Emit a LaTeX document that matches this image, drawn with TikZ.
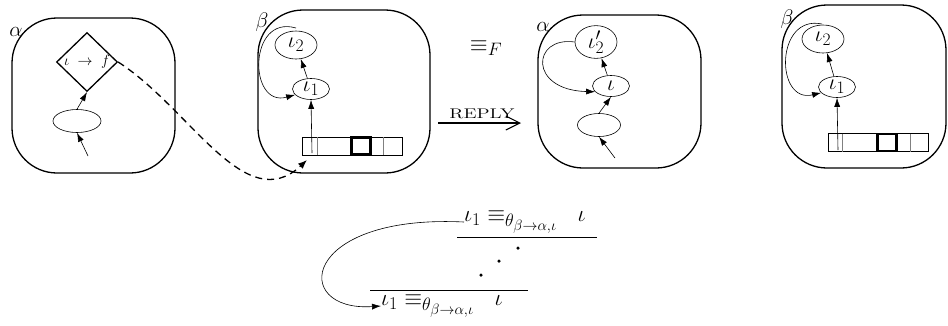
\RequirePackage{fix-cm}
\documentclass[tikz,border=0pt]{standalone}
\usetikzlibrary{shapes.geometric,arrows.meta}
\DeclareMathSizes{21}{21}{17}{13}
\DeclareMathSizes{22}{22}{17.5}{14}
\DeclareMathSizes{23}{23}{18}{15}
\DeclareMathSizes{15}{15}{11}{9}
\begin{document}
\begin{tikzpicture}[x=1pt,y=-1pt,
  agent/.style={line width=1.3pt,rounded corners=45pt},
  elt/.style={ellipse,draw,line width=0.6pt,inner sep=0pt},
  bigell/.style={elt,minimum width=42pt,minimum height=28pt},
  smallell/.style={elt,minimum width=37pt,minimum height=21pt},
  emptyell/.style={elt,minimum width=48pt,minimum height=23pt},
  arr/.style={-{Latex[length=9pt,width=6pt]},line width=0.6pt},
  lbl/.style={inner sep=0pt,font=\fontsize{21}{23}\selectfont},
  inner/.style={font=\fontsize{22}{24}\selectfont},
  cellline/.style={draw=gray,line width=0.8pt},
  arraybox/.style={draw,line width=1pt,inner sep=0pt,minimum width=100pt,minimum height=18pt},
  thickcell/.style={draw,line width=2.6pt,inner sep=0pt,minimum width=19pt,minimum height=17pt},
  dot/.style={circle,fill,inner sep=0pt,minimum size=3.5pt},
  formula/.style={inner sep=0pt,anchor=west,font=\fontsize{23}{25}\selectfont}
]
\useasboundingbox (0,0) rectangle (948,325);

% ---------- box 1 (alpha) ----------
\draw[agent] (12,18) rectangle (175,173);
\node[lbl] (la1) at (16,32) {$\alpha$};
\node[diamond,draw,line width=1.3pt,inner sep=0pt,minimum width=61pt,minimum height=59pt,
      font=\fontsize{15}{17}\selectfont] (dia) at (87,62) {$\iota\;\rightarrow\;f$};
\node[emptyell] (e1) at (77,121) {};
\coordinate (s1) at (88,156);
\draw[arr] (s1) -- (e1.south);
\draw[arr] (e1.north) -- (dia.south);

% ---------- box 2 (beta) ----------
\draw[agent] (258,10) rectangle (430,173);
\node[lbl] (lb2) at (262,22) {$\beta$};
\node[bigell,inner] (b2i2) at (296,45) {$\iota_2$};
\node[smallell,inner] (b2i1) at (311,89) {$\iota_1$};
\node[arraybox] (a2) at (352,146) {};
\draw[cellline] (317,137) -- (317,155);
\draw[cellline] (383,137) -- (383,155);
\node[thickcell] (a2t) at (361,146) {};
\coordinate (b2s) at (312,153);
\draw[arr] (b2s) -- (b2i1.south);
\draw[arr] (b2i1) -- (b2i2);
\draw[arr] (296,28) .. controls (248,14) and (248,108) .. (b2i1.200);

% dashed connector
\coordinate (t2) at (307,160);
\draw[dashed,dash pattern=on 7pt off 5pt,line width=1.3pt,-{Latex[length=9pt,width=7pt]}]
  (dia.east) .. controls (190,108) and (245,218) .. (t2);

% ---------- middle ----------
\node[inner sep=0pt,font=\fontsize{23}{26}\selectfont] (eqF) at (486,48) {$\equiv_F$};
\coordinate (r1) at (438,123);
\coordinate (r2) at (521,123);
\draw[line width=1.1pt,-{Straight Barb[length=14pt,width=14pt,line width=1.1pt]}] (r1) -- (r2);
\node[inner sep=0pt,font=\fontsize{14}{16}\selectfont] (reply) at (482,114) {\scalebox{1.4}[1]{REPLY}};

% ---------- box 3 (alpha') ----------
\draw[agent] (538,15) rectangle (701,168);
\node[lbl] (la3) at (543,27) {$\alpha$};
\node[bigell,inner] (c3i2) at (596,42) {$\iota'_2$};
\node[smallell,inner] (c3i) at (611,86) {$\iota$};
\node[emptyell,minimum width=43pt] (e3) at (599,125) {};
\coordinate (s3) at (615,158);
\draw[arr] (s3) -- (e3.south);
\draw[arr] (e3.north) -- (c3i.south);
\draw[arr] (c3i) -- (c3i2);
\draw[arr] (c3i2.west) .. controls (532,36) and (528,90) .. (c3i.200);

% ---------- box 4 (beta) ----------
\draw[agent] (782,5) rectangle (946,168);
\node[lbl] (lb4) at (787,19) {$\beta$};
\node[bigell,inner] (d4i2) at (823,39) {$\iota_2$};
\node[smallell,inner] (d4i1) at (837,87) {$\iota_1$};
\node[arraybox] (a4) at (878,142.5) {};
\draw[cellline] (842,133.5) -- (842,151.5);
\draw[cellline] (910,133.5) -- (910,151.5);
\node[thickcell] (a4t) at (887,142.5) {};
\coordinate (d4s) at (838,150);
\draw[arr] (d4s) -- (d4i1.south);
\draw[arr] (d4i1) -- (d4i2);
\draw[arr] (822,24) .. controls (775,14) and (775,104) .. (d4i1.200);

% ---------- bottom ----------
\node[formula] (top) at (464,222)
  {$\iota_1 \equiv_{\theta_{\beta\rightarrow\alpha,\iota}}\ \ \iota$};
\draw[line width=1pt] (457,237) -- (597,237);
\node[dot] (d1) at (518,248) {};
\node[dot] (d2) at (499,261) {};
\node[dot] (d3) at (481,275) {};
\draw[line width=1pt] (370,290) -- (528,290);
\node[formula] (bot) at (381,306)
  {$\iota_1 \equiv_{\theta_{\beta\rightarrow\alpha,\iota}}\ \ \iota$};
\draw[arr] (top.west) .. controls (300,214) and (290,312) .. (bot.west);
\end{tikzpicture}
\end{document}
